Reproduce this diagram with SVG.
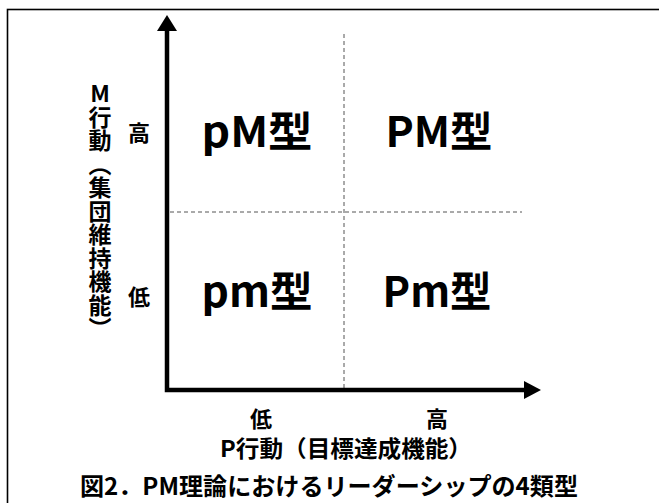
<svg xmlns="http://www.w3.org/2000/svg" width="659" height="503" viewBox="0 0 659 503">
<style>
text{font-family:"Noto Sans CJK JP","Noto Sans",sans-serif;font-weight:bold;fill:#000}
.q{font-size:42px;text-anchor:middle}
.l{font-size:22px;text-anchor:middle}
.axis{stroke:#000;stroke-width:4.5;fill:none}
.dash{stroke:#555;stroke-width:1;stroke-dasharray:4 3;fill:none}
</style>
<rect x="7.5" y="9.5" width="700" height="560" fill="#fff" stroke="#000" stroke-width="1.6"/>
<g id="connectors">
<line class="dash" x1="344" y1="34" x2="344" y2="388"/>
<line class="dash" x1="170" y1="212" x2="522" y2="212"/>
<polyline class="axis" points="167,29 167,390 526,390"/>
<polygon points="167,15 157,31 177,31" fill="#000"/>
<polygon points="541,390 524,381 524,399" fill="#000"/>
</g>
<g id="quad-pM"><text class="q" x="257" y="147" textLength="111" lengthAdjust="spacingAndGlyphs">pM型</text></g>
<g id="quad-PM"><text class="q" x="439" y="147" textLength="107" lengthAdjust="spacingAndGlyphs">PM型</text></g>
<g id="quad-pm"><text class="q" x="257" y="307" textLength="111" lengthAdjust="spacingAndGlyphs">pm型</text></g>
<g id="quad-Pm"><text class="q" x="437" y="307" textLength="109" lengthAdjust="spacingAndGlyphs">Pm型</text></g>
<g id="y-high"><text class="l" x="139" y="141">高</text></g>
<g id="y-low"><text class="l" x="139" y="305">低</text></g>
<g id="x-low"><text class="l" x="261" y="427">低</text></g>
<g id="x-high"><text class="l" x="437" y="427">高</text></g>
<g id="y-title"><text x="100" y="82" style="font-size:23px;letter-spacing:0.5px;writing-mode:vertical-rl;text-orientation:upright">M行動（集団維持機能）</text></g>
<g id="x-title"><text class="l" x="346" y="457" style="font-size:23px" textLength="252" lengthAdjust="spacingAndGlyphs">P行動（目標達成機能）</text></g>
<g id="caption"><text class="l" x="329" y="495" style="font-size:24px" textLength="498" lengthAdjust="spacingAndGlyphs">図2．PM理論におけるリーダーシップの4類型</text></g>
</svg>
